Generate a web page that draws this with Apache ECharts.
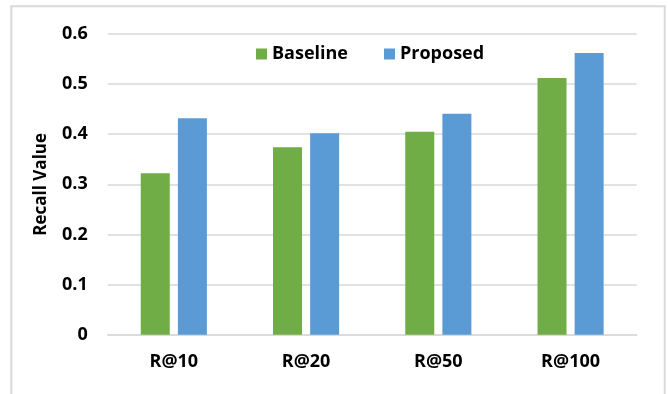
<!DOCTYPE html>
<html>
<head>
<meta charset="utf-8">
<script src="https://cdn.jsdelivr.net/npm/echarts@6/dist/echarts.min.js"></script>
<style>
  html, body { margin: 0; padding: 0; background: #ffffff; }
  #chart { width: 668px; height: 394px; }
</style>
</head>
<body>
<div id="chart"></div>
<script>
// Recall at different cut-offs
const categories = ['R@10', 'R@20', 'R@50', 'R@100'];
const baseline = [0.322, 0.374, 0.405, 0.512];
const proposed = [0.432, 0.402, 0.441, 0.562];
const seriesNames = ['Baseline', 'Proposed'];
const yTitle = 'Recall Value';

const FONT = '"Open Sans", "DejaVu Sans", sans-serif';
const GRID_GRAY = '#d9d9d9';

const chart = echarts.init(document.getElementById('chart'), null, { renderer: 'canvas' });

chart.setOption({
  animation: false,
  backgroundColor: '#ffffff',
  textStyle: { fontFamily: FONT },
  graphic: [{
    type: 'rect',
    shape: { x: 11.3, y: 6.3, width: 653.4, height: 400 },
    style: { fill: 'none', stroke: GRID_GRAY, lineWidth: 2 },
    silent: true,
    z: -10
  }],
  legend: {
    data: seriesNames,
    left: 256,
    top: 45,
    padding: 0,
    itemWidth: 11,
    itemHeight: 11,
    itemGap: 36,
    icon: 'rect',
    textStyle: { fontFamily: FONT, fontWeight: 'bold', fontSize: 18, color: '#000000' }
  },
  grid: { left: 107.7, right: 31.3, top: 34, bottom: 59.3, containLabel: false },
  xAxis: {
    type: 'category',
    data: categories,
    axisTick: { show: false },
    axisLine: { show: true, lineStyle: { color: GRID_GRAY, width: 1.5 } },
    axisLabel: { margin: 18, fontFamily: FONT, fontWeight: 'bold', fontSize: 18, color: '#000000' }
  },
  yAxis: {
    type: 'value',
    min: 0,
    max: 0.6,
    interval: 0.1,
    name: yTitle,
    nameLocation: 'middle',
    nameRotate: 90,
    nameGap: 58,
    nameTextStyle: { fontFamily: FONT, fontWeight: 'bold', fontSize: 17, color: '#000000' },
    axisLine: { show: false },
    axisTick: { show: false },
    splitLine: { lineStyle: { color: GRID_GRAY, width: 1.5 } },
    axisLabel: { margin: 20, fontFamily: FONT, fontWeight: 'bold', fontSize: 18, color: '#000000' }
  },
  series: [
    {
      name: seriesNames[0],
      type: 'bar',
      data: baseline,
      barWidth: 29,
      barGap: '28%',
      itemStyle: { color: '#70ad47' }
    },
    {
      name: seriesNames[1],
      type: 'bar',
      data: proposed,
      barWidth: 29,
      barGap: '28%',
      itemStyle: { color: '#5b9bd5' }
    }
  ]
});
</script>
</body>
</html>
